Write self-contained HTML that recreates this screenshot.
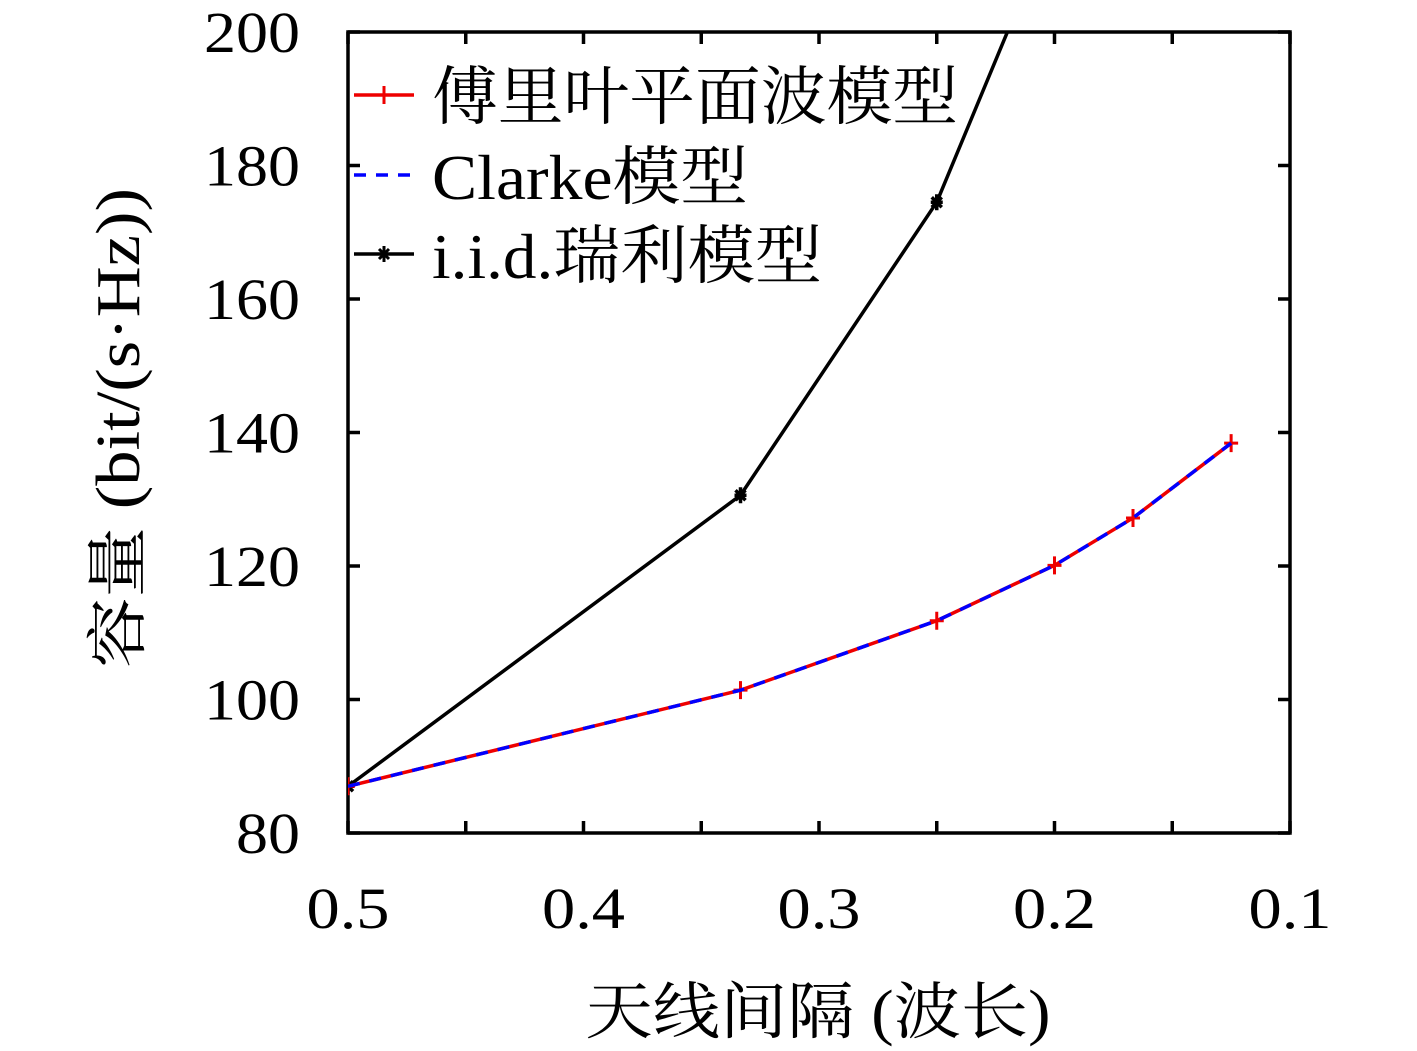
<!DOCTYPE html>
<html><head><meta charset="utf-8"><style>
html,body{margin:0;padding:0;background:#fff;}
svg{display:block;}
text{font-family:"Liberation Serif","Noto Serif CJK SC",serif;fill:#000;}
</style></head><body>
<svg id="chart" width="1417" height="1051" viewBox="0 0 1417 1051">
<defs><clipPath id="clip"><rect x="348" y="32" width="942" height="801"/></clipPath></defs>
<g id="axes"></g>
<g id="series" clip-path="url(#clip)"></g>
<g id="legend"></g>
<text x="125" y="428" font-size="62" text-anchor="middle" dominant-baseline="middle" textLength="480" lengthAdjust="spacingAndGlyphs" transform="rotate(-90 125 428)">容量 (bit/(s·Hz))</text>
<text x="818" y="1033" font-size="62" text-anchor="middle" textLength="465" lengthAdjust="spacingAndGlyphs">天线间隔 (波长)</text>
</svg>
<script>
const xValues=[0.5,1/3,0.25,0.2,1/6,0.125];
const fourierVals=[87,101.4,111.8,120.1,127.2,138.4];
const clarkeVals=[87,101.4,111.8,120.1,127.2,138.4];
const iidX=[0.5,1/3,0.25,0.2];
const iidVals=[87,130.6,174.5,217];
const yTicks=[80,100,120,140,160,180,200];
const yTickLabels=["80","100","120","140","160","180","200"];
const xTickLabels=["0.5","0.4","0.3","0.2","0.1"];
const xTickVals=[0.5,0.4,0.3,0.2,0.1];
const xMinorTicks=[0.45,0.35,0.25,0.15];

const NS="http://www.w3.org/2000/svg";
const L=348,R=1290,T=32,B=833;
function sx(v){return L+(0.5-v)/0.4*(R-L);}
function sy(v){return B-(v-80)/120*(B-T);}
function mk(tag,attrs,parent){const e=document.createElementNS(NS,tag);for(const k in attrs)e.setAttribute(k,attrs[k]);parent.appendChild(e);return e;}
const axes=document.getElementById('axes'),series=document.getElementById('series'),legend=document.getElementById('legend');

let frame=mk('rect',{x:L,y:T,width:R-L,height:B-T,fill:'none',stroke:'#000','stroke-width':3.5},axes);


yTicks.forEach((v,i)=>{
  const y=sy(v);
  let t=mk('path',{d:`M${L} ${y}H${L+12}M${R} ${y}H${R-12}`,stroke:'#000','stroke-width':3.5},axes);
  
  
  const txt=yTickLabels[i];
  let lb=mk('text',{x:300,y:y+20,'font-size':58,'text-anchor':'end',textLength:txt.length*32,lengthAdjust:'spacingAndGlyphs'},axes);
  lb.textContent=txt;
  
  
});
xTickVals.concat(xMinorTicks).forEach(v=>{
  const x=sx(v);
  let t=mk('path',{d:`M${x} ${B}V${B-12}M${x} ${T}V${T+12}`,stroke:'#000','stroke-width':3.5},axes);
  
  
});
xTickVals.forEach((v,i)=>{
  let lb=mk('text',{x:sx(v),y:928,'font-size':58,'text-anchor':'middle',textLength:83,lengthAdjust:'spacingAndGlyphs'},axes);
  lb.textContent=xTickLabels[i];
  
  
});
function pts(xs,ys){return xs.map((x,i)=>sx(x)+','+sy(ys[i])).join(' ');}
let iid=mk('polyline',{points:pts(iidX,iidVals),fill:'none',stroke:'#000','stroke-width':3.5},series);


iidX.forEach((x,i)=>{
  const cx=sx(x),cy=sy(iidVals[i]);
  let m=mk('path',{d:`M${cx-6} ${cy}h12M${cx} ${cy-8}v16M${cx-5} ${cy-5}l10 10M${cx+5} ${cy-5}l-10 10`,stroke:'#000','stroke-width':3.5},series);
  
  
});
let four=mk('polyline',{points:pts(xValues,fourierVals),fill:'none',stroke:'#e00','stroke-width':3.5},series);


xValues.forEach((x,i)=>{
  const cx=sx(x),cy=sy(fourierVals[i]);
  let m=mk('path',{d:`M${cx-7} ${cy}h14M${cx} ${cy-9}v18`,stroke:'#e00','stroke-width':3},series);
  
  
});
let cl=mk('polyline',{points:pts(xValues,clarkeVals),fill:'none',stroke:'#00f','stroke-width':3.5,'stroke-dasharray':'12 10'},series);



const legItems=[["傅里叶平面波模型","#e00","","plus",95,526],["Clarke模型","#00f","12 10","",175,316],["i.i.d.瑞利模型","#000","","star",254,390]];
legItems.forEach(it=>{
  const g=mk('g',{},legend);
  
  
  const y=it[4];
  const a={d:`M354 ${y}H414`,stroke:it[1],'stroke-width':3.5};
  if(it[2])a['stroke-dasharray']=it[2];
  mk('path',a,g);
  if(it[3]==='plus')mk('path',{d:`M384 ${y-9}v18`,stroke:it[1],'stroke-width':3},g);
  if(it[3]==='star')mk('path',{d:`M384 ${y-8}v16M379 ${y-5}l10 10M389 ${y-5}l-10 10`,stroke:it[1],'stroke-width':3},g);
  const t=mk('text',{x:432,y:y+24,'font-size':64,textLength:it[5],lengthAdjust:'spacingAndGlyphs'},g);
  t.textContent=it[0];
});
</script>
</body></html>
